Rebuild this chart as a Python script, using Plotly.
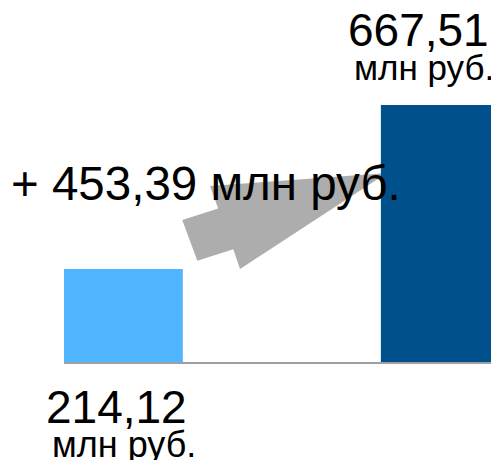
import plotly.graph_objects as go

# values, mln rub
periods = [0, 2]
values = [214.12, 667.51]
bar_colors = ["#4FB5FF", "#00508C"]
unit = "млн руб."
delta = values[1] - values[0]

# page geometry (the html body adds an 8px margin)
OFF = 8
W, H = 499, 460
L, R, T, B = 64, 8, 20, 98
PW, PH = W - L - R, H - T - B
Y0 = -43          # axis floor, bars start here
PX_PER_UNIT = 0.3617


def fmt(v):
    return f"{v:.2f}".replace(".", ",")


def px(x, y):
    # page pixel position -> paper coords
    return (x - L) / PW, (H - B - y) / PH


fig = go.Figure(go.Bar(
    x=periods,
    y=[v - Y0 for v in values],
    base=Y0,
    width=0.75,
    marker=dict(color=bar_colors, line=dict(width=0)),
    hoverinfo="skip",
))

# grey arrow between the bars
arrow_px = [(182.3, 220), (218.2, 208.6), (210, 186), (387, 173),
            (240, 269), (233.3, 249.3), (197.3, 260.7)]
pts = [px(x, y) for x, y in arrow_px]
path = "M " + " L ".join(f"{a:.4f},{b:.4f}" for a, b in pts) + " Z"
fig.add_shape(type="path", path=path, xref="paper", yref="paper",
              fillcolor="#ADADAD", line=dict(width=0), layer="below")

font = "Liberation Sans, Arial, sans-serif"


def label(text, x, y, size, xanchor="center"):
    ax, ay = px(x, y)
    fig.add_annotation(text=text, x=ax, y=ay, xref="paper", yref="paper",
                       xanchor=xanchor, yanchor="middle", showarrow=False,
                       font=dict(family=font, size=size, color="black"))


label(fmt(values[1]), 418, 30, 46)
label(unit, 496, 67, 35, xanchor="right")
label("+ " + fmt(delta) + " " + unit, 9, 183, 47.5, xanchor="left")
label(fmt(values[0]), 116.5, 407, 46)
label(unit, 123.5, 444, 36)

fig.update_layout(
    width=W - OFF, height=H - OFF,
    margin=dict(l=L - OFF, r=R, t=T - OFF, b=B),
    plot_bgcolor="white", paper_bgcolor="white",
    showlegend=False,
    xaxis=dict(range=[-0.375, 2.32], showticklabels=False, ticks="",
               showgrid=False, zeroline=False,
               showline=True, linewidth=2, linecolor="#A0A0A0"),
    yaxis=dict(range=[Y0, Y0 + PH / PX_PER_UNIT], visible=False,
               showgrid=False, zeroline=False),
)

fig.write_html("out.html")
